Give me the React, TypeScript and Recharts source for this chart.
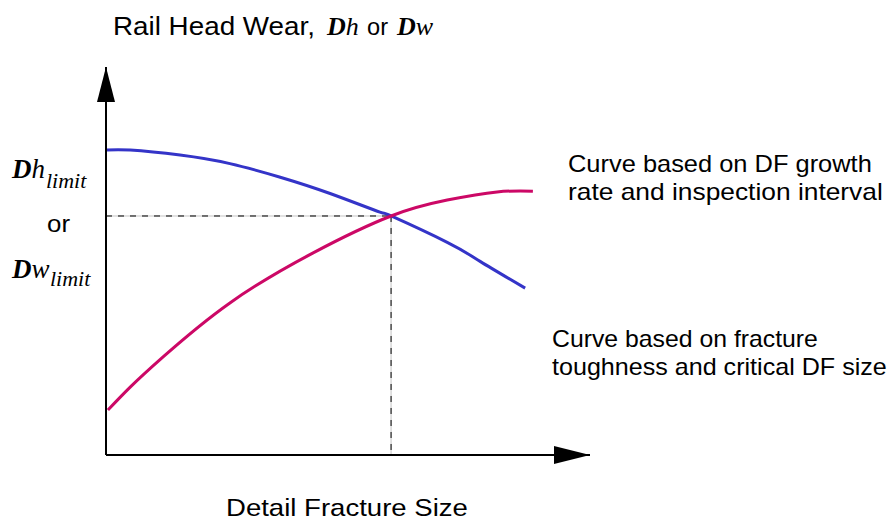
import * as React from "react";
import {
  LineChart,
  Line,
  XAxis,
  YAxis,
  ReferenceLine,
  ReferenceDot,
} from "recharts";

// x: detail fracture size, y: rail head wear (both in arbitrary 0-100 units)
const growthCurveX = [0.2, 5, 15.3, 25.6, 36, 46.3, 56.6, 58.9, 70.5, 77.3, 86.6];
const growthCurveY = [78.6, 78.6, 77.3, 75.1, 71.6, 67.4, 62.6, 61.6, 54.8, 49.9, 43];

const toughnessCurveX = [0.4, 5, 11.8, 25.6, 42.8, 58.9, 70.5, 80.8, 88.2];
const toughnessCurveY = [11.6, 17.5, 25.3, 39.2, 52.1, 61.6, 65.7, 67.8, 68];

const limitPoint = { x: 58.9, y: 61.6 };

const growthData = growthCurveX.map((x, i) => ({ x, y: growthCurveY[i] }));
const toughnessData = toughnessCurveX.map((x, i) => ({ x, y: toughnessCurveY[i] }));

const W = 891;
const H = 522;
const sans = "'Liberation Sans', Arial, sans-serif";
const serif = "'Liberation Serif', 'Times New Roman', serif";

function ArrowRight(props: any) {
  const { cx, cy } = props;
  return <polygon points={`${cx},${cy} ${cx - 36},${cy - 9} ${cx - 36},${cy + 9}`} fill="#000" />;
}

function ArrowUp(props: any) {
  const { cx, cy } = props;
  return <polygon points={`${cx},${cy} ${cx - 9},${cy + 35} ${cx + 9},${cy + 35}`} fill="#000" />;
}

// sans text stretched horizontally to the width it has in the original
function FitText({ x, y, width, fontSize, children }: any) {
  const ref = React.useRef<SVGTextElement>(null);
  const [sx, setSx] = React.useState(1);
  React.useLayoutEffect(() => {
    if (ref.current) {
      const len = ref.current.getComputedTextLength();
      if (len > 0) setSx(width / len);
    }
  }, [width, children]);
  return (
    <text ref={ref} transform={`translate(${x},${y}) scale(${sx},1)`} fontSize={fontSize}>
      {children}
    </text>
  );
}

function Labels() {
  return (
    <svg
      width={W}
      height={H}
      style={{ position: "absolute", left: 0, top: 0, pointerEvents: "none" }}
    >
      <g fill="#000" fontFamily={sans}>
        <FitText x={113} y={35} width={202} fontSize={25}>Rail Head Wear,</FitText>
        <text x={327} y={35} fontFamily={serif} fontSize={26}>
          <tspan fontWeight="bold" fontStyle="italic">D</tspan>
          <tspan fontStyle="italic">h</tspan>
        </text>
        <FitText x={367} y={35} width={21} fontSize={24}>or</FitText>
        <text x={397} y={35} fontFamily={serif} fontSize={26}>
          <tspan fontWeight="bold" fontStyle="italic">D</tspan>
          <tspan fontStyle="italic">w</tspan>
        </text>

        <text x={12} y={178} fontFamily={serif} fontSize={27}>
          <tspan fontWeight="bold" fontStyle="italic">D</tspan>
          <tspan fontStyle="italic">h</tspan>
        </text>
        <text x={46} y={188} fontFamily={serif} fontSize={22} fontStyle="italic">limit</text>
        <FitText x={47} y={232} width={23} fontSize={24}>or</FitText>
        <text x={12} y={278} fontFamily={serif} fontSize={27}>
          <tspan fontWeight="bold" fontStyle="italic">D</tspan>
          <tspan fontStyle="italic">w</tspan>
        </text>
        <text x={50} y={286} fontFamily={serif} fontSize={22} fontStyle="italic">limit</text>

        <FitText x={568} y={172} width={304} fontSize={23}>Curve based on DF growth</FitText>
        <FitText x={568} y={200} width={315} fontSize={23}>rate and inspection interval</FitText>
        <FitText x={552} y={347} width={266} fontSize={23}>Curve based on fracture</FitText>
        <FitText x={552} y={375} width={335} fontSize={23}>toughness and critical DF size</FitText>

        <FitText x={226} y={516} width={242} fontSize={24}>Detail Fracture Size</FitText>
      </g>
    </svg>
  );
}

export default function App() {
  return (
    <div style={{ position: "absolute", left: 0, top: 0, width: W, height: H, background: "#fff" }}>
      <LineChart
        width={W}
        height={H}
        margin={{ top: 67, right: 301, bottom: 67, left: 106 }}
      >
        <XAxis type="number" dataKey="x" domain={[0, 100]} hide allowDataOverflow />
        <YAxis type="number" dataKey="y" domain={[0, 100]} hide allowDataOverflow />

        <ReferenceLine
          segment={[{ x: 0, y: limitPoint.y }, { x: limitPoint.x, y: limitPoint.y }]}
          stroke="#c4c4c4"
          strokeWidth={1}
        />
        <ReferenceLine
          segment={[{ x: 0, y: limitPoint.y }, { x: limitPoint.x, y: limitPoint.y }]}
          stroke="#000"
          strokeWidth={1}
          strokeDasharray="6 6"
        />
        <ReferenceLine
          segment={[{ x: limitPoint.x, y: limitPoint.y }, { x: limitPoint.x, y: 0 }]}
          stroke="#c4c4c4"
          strokeWidth={1}
        />
        <ReferenceLine
          segment={[{ x: limitPoint.x, y: limitPoint.y }, { x: limitPoint.x, y: 0 }]}
          stroke="#000"
          strokeWidth={1}
          strokeDasharray="6 6"
        />

        <Line
          data={growthData}
          dataKey="y"
          type="natural"
          stroke="#3434c8"
          strokeWidth={3}
          dot={false}
          isAnimationActive={false}
        />
        <Line
          data={toughnessData}
          dataKey="y"
          type="natural"
          stroke="#cc0866"
          strokeWidth={3}
          dot={false}
          isAnimationActive={false}
        />

        <ReferenceLine y={0} stroke="#000" strokeWidth={2} />
        <ReferenceLine x={0} stroke="#000" strokeWidth={2} />
        <ReferenceDot x={100} y={0} r={0} shape={<ArrowRight />} />
        <ReferenceDot x={0} y={100} r={0} shape={<ArrowUp />} />
      </LineChart>
      <Labels />
    </div>
  );
}
